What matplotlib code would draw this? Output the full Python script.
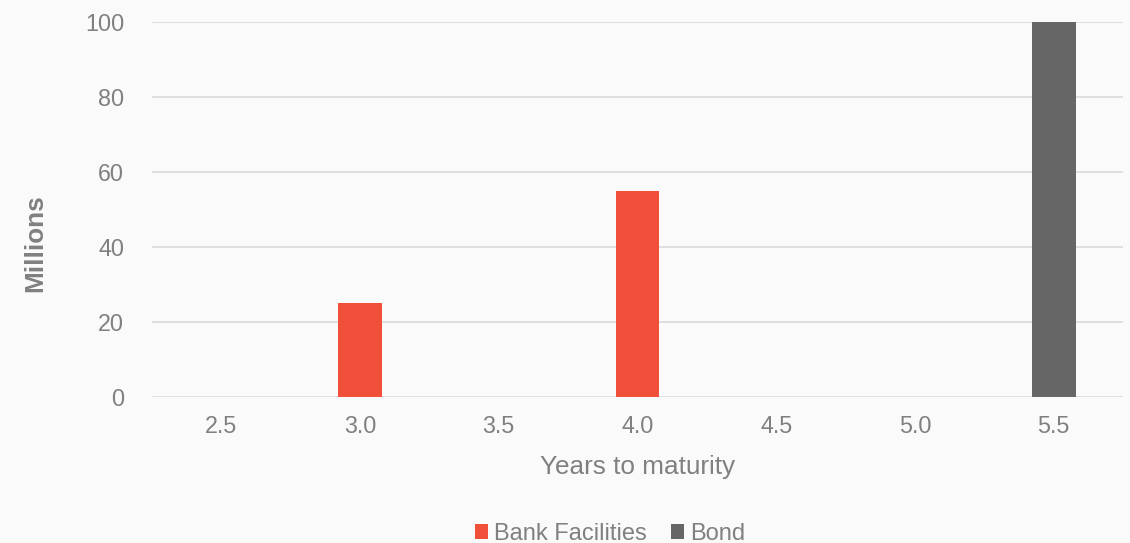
import matplotlib.pyplot as plt
import numpy as np

# chart data
categories = ['2.5', '3.0', '3.5', '4.0', '4.5', '5.0', '5.5']
bank_facilities = [0, 25, 0, 55, 0, 0, 0]
bond = [0, 0, 0, 0, 0, 0, 100]
y_ticks = [0, 20, 40, 60, 80, 100]

red = '#F0503A'
grey = '#666666'
text_grey = '#808080'
bg = '#FAFAFA'

plt.rcParams['font.family'] = ['Liberation Sans', 'DejaVu Sans']

fig = plt.figure(figsize=(11.3, 5.43), dpi=100, facecolor=bg)
ax = fig.add_axes([152 / 1130, 1 - 397 / 543, (1123 - 152) / 1130, (397 - 22) / 543])
ax.set_facecolor(bg)

x = np.arange(len(categories))
width = 0.317
ax.bar(x, bank_facilities, width, color=red, label='Bank Facilities', zorder=3)
ax.bar(x, bond, width, bottom=bank_facilities, color=grey, label='Bond', zorder=3)

ax.set_xlim(-0.5, len(categories) - 0.5)
ax.set_ylim(0, 100)
ax.set_yticks(y_ticks)
ax.set_xticks(x)
ax.set_xticklabels(categories)

# light horizontal gridlines, no frame
ax.grid(axis='y', color='#DDDDDD', linewidth=1.3, zorder=0)
ax.set_axisbelow(True)
for s in ax.spines.values():
    s.set_visible(False)
ax.tick_params(axis='both', length=0, labelsize=16.8, labelcolor=text_grey)
ax.tick_params(axis='x', pad=13)
ax.tick_params(axis='y', pad=20)

ax.set_xlabel('Years to maturity', fontsize=18.8, color=text_grey, labelpad=12)
ax.set_ylabel('Millions', fontsize=18.8, color=text_grey, fontweight='bold', va='center')
ax.yaxis.set_label_coords(-0.1205, 0.41)

fig.legend(loc='center', bbox_to_anchor=(610 / 1130, 0.017), ncol=2, frameon=False,
           fontsize=17, labelcolor=text_grey, handlelength=0.55, handleheight=0.55,
           handletextpad=0.25, columnspacing=1.05)

fig.savefig('out.png', dpi=100, facecolor=bg)
